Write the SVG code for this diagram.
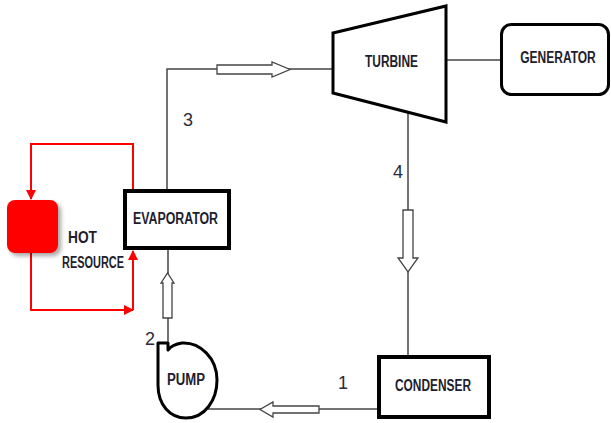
<svg xmlns="http://www.w3.org/2000/svg" width="611" height="423" viewBox="0 0 611 423">
<defs>
<style>
.lbl{font-family:"Liberation Sans",Arial,sans-serif;font-weight:bold;font-size:16px;fill:#1e1e2e;text-anchor:middle}
.num{font-family:"Liberation Sans",Arial,sans-serif;font-size:18px;fill:#2a2a3a;text-anchor:middle}
.box{fill:#fff;stroke:#000;stroke-width:4}
.pipe{fill:none;stroke:#444;stroke-width:1.5}
.flow{fill:#fff;stroke:#444;stroke-width:1.3}
.hot{fill:none;stroke:#f00;stroke-width:2}
</style>
<marker id="rh" markerWidth="10" markerHeight="10" refX="9" refY="5" orient="auto" markerUnits="userSpaceOnUse">
<path d="M0,0 L10,5 L0,10 Z" fill="#f00"/>
</marker>
<filter id="sh" x="-20%" y="-20%" width="150%" height="150%">
<feDropShadow dx="3" dy="3" stdDeviation="2" flood-color="#000" flood-opacity="0.35"/>
</filter>
</defs>

<g id="connectors">
<path class="pipe" d="M167,189 L167,69 L333,69"/>
<path class="pipe" d="M446,60 L501,60"/>
<path class="pipe" d="M408,112 L408,355"/>
<path class="pipe" d="M168,250 L168,343"/>
<path class="pipe" d="M208,409 L377,409"/>
<path class="flow" d="M217,65 L272,65 L272,62 L290,69.5 L272,77 L272,74 L217,74 Z"/>
<path class="flow" d="M403,210 L413,210 L413,258 L418,258 L408,272 L398,258 L403,258 Z"/>
<path class="flow" d="M163,318 L163,283 L161,283 L167.5,273 L174,283 L172,283 L172,318 Z"/>
<path class="flow" d="M319,406 L273,406 L273,402 L260,409.5 L273,417 L273,413 L319,413 Z"/>
<path class="hot" d="M133,189 L133,144 L31,144 L31,199" marker-end="url(#rh)"/>
<path class="hot" d="M31,253 L31,310 L133,310" marker-end="url(#rh)"/>
<path class="hot" d="M133,310 L133,251" marker-end="url(#rh)"/>
</g>

<g id="turbine">
<polygon points="333,33 446,6 446,122 333,93" fill="#fff" stroke="#000" stroke-width="3" stroke-linejoin="miter"/>
<text class="lbl" x="391.5" y="67" textLength="53" lengthAdjust="spacingAndGlyphs">TURBINE</text>
</g>

<g id="generator">
<rect x="501.5" y="24.5" width="107" height="70" rx="10" fill="#fff" stroke="#000" stroke-width="3"/>
<text class="lbl" transform="translate(558,63) scale(0.75,1)" x="0" y="0">GENERATOR</text>
</g>

<g id="evaporator">
<rect class="box" x="125" y="191" width="104" height="57"/>
<text class="lbl" x="175.5" y="224" textLength="85" lengthAdjust="spacingAndGlyphs">EVAPORATOR</text>
</g>

<g id="condenser">
<rect class="box" x="379" y="357" width="110" height="60"/>
<text class="lbl" x="433" y="391" textLength="76" lengthAdjust="spacingAndGlyphs">CONDENSER</text>
</g>

<g id="pump">
<path d="M168,350 L168,343 L158,343 L158,385 C158,405 170,418 186,418 C205,418 217,400 217,380 C217,358 200,342 182,343 C175,344 171,346 168,350 Z" fill="#fff" stroke="#000" stroke-width="3" stroke-linejoin="round"/>
<text class="lbl" x="186" y="385" textLength="38" lengthAdjust="spacingAndGlyphs">PUMP</text>
</g>

<g id="hot-resource">
<rect x="7" y="200" width="51" height="53" rx="8" fill="#f00" filter="url(#sh)"/>
<text class="lbl" x="82.5" y="243" textLength="29" lengthAdjust="spacingAndGlyphs">HOT</text>
<text class="lbl" x="93" y="268" textLength="62" lengthAdjust="spacingAndGlyphs">RESOURCE</text>
</g>

<g id="labels">
<text class="num" x="188" y="126">3</text>
<text class="num" x="398" y="178">4</text>
<text class="num" x="150" y="345">2</text>
<text class="num" x="343" y="389">1</text>
</g>
</svg>
